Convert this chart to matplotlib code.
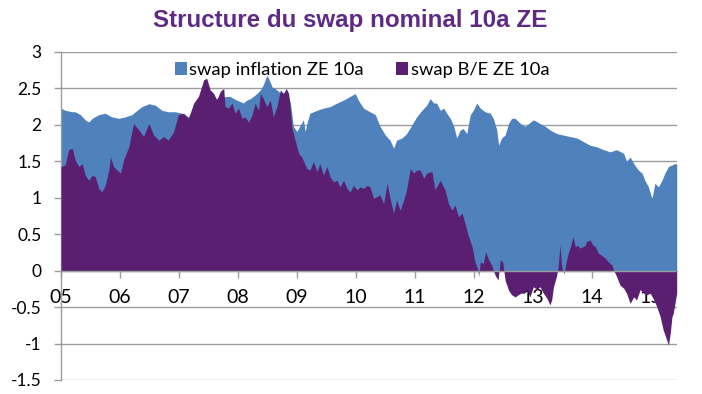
import matplotlib
matplotlib.use("Agg")
import matplotlib.pyplot as plt
from matplotlib.patches import Patch
from matplotlib import font_manager

# ---------------- data (decimal years, values in %) ----------------
infl_dates = [2005.00, 2005.07, 2005.19, 2005.24, 2005.33, 2005.41, 2005.47, 2005.53, 2005.64,
              2005.75, 2005.86, 2005.98, 2006.09, 2006.20, 2006.29, 2006.37, 2006.49, 2006.60,
              2006.71, 2006.82, 2006.94, 2007.05, 2007.16, 2007.22, 2007.35, 2007.45, 2007.53,
              2007.81, 2007.87, 2007.93, 2007.98, 2008.04, 2008.09, 2008.15, 2008.21, 2008.26,
              2008.32, 2008.38, 2008.43, 2008.49, 2008.52, 2008.58, 2008.63, 2008.69, 2008.74,
              2008.83, 2008.89, 2008.94, 2009.00, 2009.06, 2009.11, 2009.14, 2009.17, 2009.22,
              2009.34, 2009.45, 2009.56, 2009.68, 2009.79, 2009.90, 2009.99, 2010.04, 2010.13,
              2010.24, 2010.33, 2010.41, 2010.50, 2010.58, 2010.64, 2010.69, 2010.78, 2010.86,
              2010.95, 2011.03, 2011.12, 2011.20, 2011.26, 2011.32, 2011.37, 2011.43, 2011.49,
              2011.54, 2011.60, 2011.66, 2011.71, 2011.77, 2011.82, 2011.88, 2011.94, 2011.99,
              2012.05, 2012.11, 2012.19, 2012.28, 2012.33, 2012.39, 2012.42, 2012.47, 2012.53,
              2012.59, 2012.64, 2012.70, 2012.79, 2012.87, 2013.01, 2013.12, 2013.21, 2013.29,
              2013.41, 2013.52, 2013.63, 2013.75, 2013.86, 2013.97, 2014.08, 2014.20, 2014.31,
              2014.42, 2014.54, 2014.59, 2014.65, 2014.71, 2014.79, 2014.85, 2014.90, 2014.96,
              2015.02, 2015.07, 2015.13, 2015.19, 2015.24, 2015.30, 2015.36, 2015.41, 2015.44]
infl_values = [2.23, 2.20, 2.18, 2.18, 2.14, 2.07, 2.04, 2.09, 2.14,
               2.16, 2.11, 2.09, 2.11, 2.14, 2.20, 2.25, 2.29, 2.27,
               2.20, 2.18, 2.18, 2.16, 2.11, 2.16, 2.25, 2.30, 2.35,
               2.39, 2.39, 2.36, 2.34, 2.32, 2.30, 2.34, 2.36, 2.39,
               2.43, 2.48, 2.55, 2.68, 2.64, 2.52, 2.50, 2.46, 2.43,
               2.46, 2.30, 1.98, 1.91, 2.00, 2.07, 1.91, 2.02, 2.16,
               2.20, 2.23, 2.25, 2.30, 2.34, 2.39, 2.43, 2.34, 2.23,
               2.18, 2.14, 1.98, 1.86, 1.79, 1.68, 1.79, 1.82, 1.88,
               2.00, 2.11, 2.20, 2.27, 2.36, 2.30, 2.30, 2.20, 2.23,
               2.16, 2.09, 1.98, 1.82, 1.93, 1.95, 1.88, 2.14, 2.20,
               2.30, 2.23, 2.18, 2.16, 2.09, 1.93, 1.72, 1.82, 1.86,
               2.02, 2.09, 2.09, 2.02, 1.98, 2.07, 2.02, 1.98, 1.93,
               1.88, 1.86, 1.84, 1.82, 1.77, 1.72, 1.70, 1.66, 1.63,
               1.66, 1.61, 1.50, 1.56, 1.47, 1.38, 1.34, 1.24, 1.15,
               0.99, 1.20, 1.15, 1.24, 1.34, 1.43, 1.45, 1.47, 1.46]

be_dates = [2005.00, 2005.07, 2005.13, 2005.19, 2005.24, 2005.30, 2005.36, 2005.41, 2005.47,
            2005.53, 2005.58, 2005.64, 2005.69, 2005.75, 2005.81, 2005.84, 2005.89, 2005.95,
            2006.01, 2006.06, 2006.15, 2006.23, 2006.32, 2006.40, 2006.49, 2006.57, 2006.66,
            2006.74, 2006.82, 2006.91, 2006.99, 2007.08, 2007.16, 2007.25, 2007.33, 2007.42,
            2007.47, 2007.53, 2007.59, 2007.64, 2007.70, 2007.76, 2007.78, 2007.84, 2007.90,
            2007.95, 2008.01, 2008.07, 2008.12, 2008.18, 2008.24, 2008.29, 2008.35, 2008.38,
            2008.43, 2008.49, 2008.55, 2008.60, 2008.66, 2008.72, 2008.77, 2008.82, 2008.86,
            2008.89, 2008.91, 2008.97, 2009.03, 2009.08, 2009.17, 2009.22, 2009.28, 2009.34,
            2009.39, 2009.45, 2009.51, 2009.56, 2009.62, 2009.68, 2009.73, 2009.79, 2009.85,
            2009.90, 2009.96, 2010.02, 2010.07, 2010.13, 2010.19, 2010.24, 2010.30, 2010.36,
            2010.41, 2010.47, 2010.53, 2010.58, 2010.64, 2010.69, 2010.75, 2010.81, 2010.86,
            2010.92, 2010.98, 2011.03, 2011.09, 2011.15, 2011.20, 2011.29, 2011.34, 2011.43,
            2011.51, 2011.57, 2011.63, 2011.68, 2011.74, 2011.80, 2011.85, 2011.91, 2011.97,
            2012.02, 2012.07, 2012.08, 2012.11, 2012.16, 2012.20, 2012.25, 2012.30, 2012.36,
            2012.41, 2012.45, 2012.49, 2012.53, 2012.59, 2012.64, 2012.70, 2012.79, 2012.84,
            2012.90, 2012.95, 2013.01, 2013.07, 2013.12, 2013.18, 2013.24, 2013.29, 2013.32,
            2013.35, 2013.40, 2013.43, 2013.46, 2013.49, 2013.53, 2013.56, 2013.60, 2013.64,
            2013.68, 2013.72, 2013.76, 2013.80, 2013.85, 2013.89, 2013.91, 2013.97, 2014.02,
            2014.06, 2014.11, 2014.17, 2014.23, 2014.28, 2014.34, 2014.38, 2014.42, 2014.48,
            2014.54, 2014.59, 2014.65, 2014.71, 2014.76, 2014.82, 2014.88, 2014.93, 2014.99,
            2015.04, 2015.10, 2015.16, 2015.21, 2015.27, 2015.30, 2015.33, 2015.36, 2015.38,
            2015.44]
be_values = [1.43, 1.45, 1.66, 1.68, 1.52, 1.43, 1.47, 1.31, 1.24,
             1.31, 1.29, 1.13, 1.08, 1.17, 1.38, 1.56, 1.43, 1.38,
             1.34, 1.52, 1.70, 2.02, 1.93, 1.84, 2.02, 1.86, 1.79,
             1.84, 1.79, 1.91, 2.14, 2.16, 2.09, 2.30, 2.39, 2.62,
             2.64, 2.48, 2.43, 2.34, 2.46, 2.50, 2.25, 2.23, 2.30,
             2.16, 2.23, 2.09, 2.11, 2.04, 2.14, 2.30, 2.20, 2.43,
             2.36, 2.25, 2.34, 2.11, 2.25, 2.48, 2.43, 2.50, 2.43,
             2.20, 1.98, 1.79, 1.61, 1.56, 1.40, 1.38, 1.50, 1.36,
             1.47, 1.31, 1.43, 1.29, 1.22, 1.24, 1.15, 1.24, 1.13,
             1.08, 1.17, 1.11, 1.15, 1.13, 1.17, 1.15, 0.99, 1.02,
             1.04, 0.92, 1.20, 0.99, 0.79, 0.97, 0.83, 0.97, 1.11,
             1.40, 1.34, 1.38, 1.38, 1.27, 1.34, 1.36, 1.11, 1.24,
             1.11, 0.92, 0.83, 0.90, 0.74, 0.79, 0.65, 0.47, 0.33,
             0.12, 0.01, -0.08, 0.12, 0.10, 0.26, 0.15, 0.08, -0.06,
             -0.13, 0.15, 0.12, -0.13, -0.27, -0.33, -0.36, -0.31, -0.31,
             -0.26, -0.36, -0.22, -0.26, -0.22, -0.31, -0.38, -0.47, -0.40,
             -0.22, -0.08, 0.05, 0.35, 0.05, -0.04, 0.10, 0.24, 0.33,
             0.47, 0.33, 0.35, 0.31, 0.33, 0.35, 0.40, 0.42, 0.35,
             0.33, 0.24, 0.21, 0.17, 0.12, 0.08, -0.01, -0.08, -0.20,
             -0.24, -0.31, -0.45, -0.36, -0.40, -0.26, -0.31, -0.33, -0.31,
             -0.38, -0.49, -0.63, -0.81, -0.95, -1.02, -0.86, -0.63, -0.59,
             -0.31]

years = [2005, 2006, 2007, 2008, 2009, 2010, 2011, 2012, 2013, 2014, 2015]
year_labels = ["05", "06", "07", "08", "09", "10", "11", "12", "13", "14", "15"]
y_ticks = [-1.5, -1, -0.5, 0, 0.5, 1, 1.5, 2, 2.5, 3]
y_labels = ["-1.5", "-1", "-0.5", "0", "0.5", "1", "1.5", "2", "2.5", "3"]

series_names = ["swap inflation ZE 10a", "swap B/E ZE 10a"]
title_text = "Structure du swap nominal 10a ZE"

# ---------------- style ----------------
BLUE = "#4F81BD"
PURPLE = "#5B1F72"
TITLE_COLOR = "#5E2A84"
GRID = "#9C9C9C"

names = {f.name for f in font_manager.fontManager.ttflist}
BODY = "Lato" if "Lato" in names else "DejaVu Sans"
TITLE_FONT = "Liberation Sans Narrow" if "Liberation Sans Narrow" in names else "Liberation Sans"

plt.rcParams["font.family"] = [BODY, "DejaVu Sans"]

fig = plt.figure(figsize=(7.02, 3.94), dpi=100)
ax = fig.add_axes([61 / 702, 1 - 380 / 394, (677 - 61) / 702, (380 - 52) / 394])

# spines first (moving the bottom spine resets the x ticks)
for s in ["top", "right"]:
    ax.spines[s].set_visible(False)
ax.spines["bottom"].set_position(("data", 0))
ax.spines["left"].set_color(GRID)
ax.spines["left"].set_linewidth(1.0)
ax.spines["bottom"].set_color(GRID)
ax.spines["bottom"].set_linewidth(1.0)
ax.spines["bottom"].set_zorder(4)

ax.fill_between(infl_dates, 0, infl_values, color=BLUE, linewidth=0, zorder=2)
ax.fill_between(be_dates, 0, be_values, color=PURPLE, linewidth=0, zorder=3)

ax.set_xlim(2005.0, infl_dates[-1] + 0.005)
ax.set_ylim(-1.5, 3)

ax.set_yticks(y_ticks)
ax.set_yticklabels(y_labels)
ax.set_xticks(years)
ax.set_xticklabels(year_labels)

ax.grid(axis="y", color=GRID, linewidth=1.0)
ax.grid(axis="x", visible=False)
ax.set_axisbelow(True)

ax.tick_params(axis="y", direction="out", length=5, width=1, color=GRID, pad=9,
               labelcolor="black", labelsize=12.5)
ax.tick_params(axis="x", direction="out", length=5, width=1, color=GRID, pad=8,
               labelcolor="black", labelsize=14)
for lbl in ax.get_xticklabels():
    lbl.set_zorder(5)

handles = [Patch(facecolor=BLUE, edgecolor="none"), Patch(facecolor=PURPLE, edgecolor="none")]
fig.legend(handles, series_names, loc="center", bbox_to_anchor=(362 / 702, 1 - 70 / 394),
           ncol=2, frameon=False, fontsize=13.2, handlelength=0.65, handleheight=0.65,
           handletextpad=0.15, columnspacing=1.75, borderpad=0)

fig.text(350 / 702, 1 - 20 / 394, title_text, ha="center", va="center",
         fontsize=17.4, fontweight="bold", color=TITLE_COLOR, family=[TITLE_FONT, "DejaVu Sans"])

fig.savefig("out.png", dpi=100)
